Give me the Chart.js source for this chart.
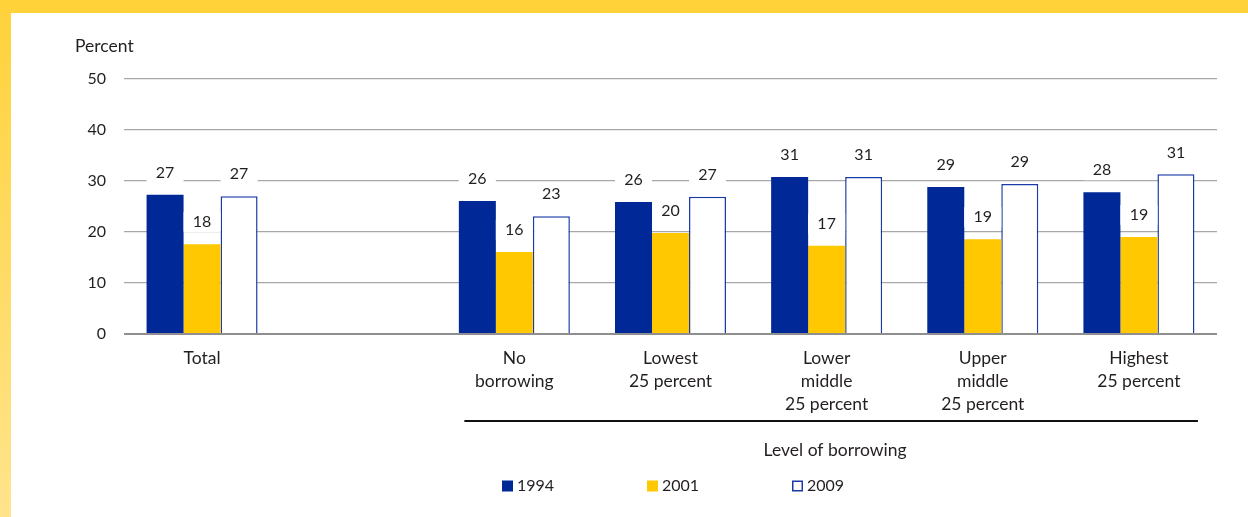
<!DOCTYPE html>
<html>
<head>
<meta charset="utf-8">
<script src="https://cdn.jsdelivr.net/npm/chart.js@4/dist/chart.umd.min.js"></script>
<style>
  html, body { margin: 0; padding: 0; background: #fff; }
  body { width: 1248px; height: 517px; position: relative; overflow: hidden; }
  #top { position: absolute; left: 0; top: 0; width: 1248px; height: 13px; background: #FFD23A; }
  #left { position: absolute; left: 0; top: 0; width: 11px; height: 517px; background: linear-gradient(#FFD23A, #FFE48C); }
  #wrap { position: absolute; left: 0; top: 0; width: 1248px; height: 517px; }
</style>
</head>
<body>
<div id="top"></div>
<div id="left"></div>
<div id="wrap"><canvas id="c" width="1248" height="517"></canvas></div>
<script>
const categories = ["Total", "", ["No", "borrowing"], ["Lowest", "25 percent"], ["Lower", "middle", "25 percent"], ["Upper", "middle", "25 percent"], ["Highest", "25 percent"]];
const seriesNames = ["1994", "2001", "2009"];
const values1994 = [27.3, null, 26.1, 25.9, 30.8, 28.8, 27.8];
const values2001 = [17.6, null, 16.1, 19.8, 17.3, 18.6, 19.0];
const values2009 = [27.0, null, 23.1, 26.9, 30.8, 29.4, 31.3];
const yTicks = [0, 10, 20, 30, 40, 50];
const axisTitle = "Percent";
const groupTitle = "Level of borrowing";

const FONT = "Lato, 'Open Sans', sans-serif";
const TEXT = "#231f20";
const WORD = 17.5;
const NUM = 16;

const extras = {
  id: "extras",
  afterDatasetsDraw(chart) {
    const ctx = chart.ctx;
    ctx.save();
    ctx.font = NUM + "px " + FONT;
    ctx.textAlign = "center";
    ctx.textBaseline = "middle";
    chart.data.datasets.forEach((ds, di) => {
      const meta = chart.getDatasetMeta(di);
      meta.data.forEach((bar, i) => {
        const v = ds.data[i];
        if (v === null || v === undefined) return;
        const w = bar.width;
        const cy = bar.y - 22;
        ctx.fillStyle = "#fff";
        ctx.fillRect(bar.x - w / 2, cy - 10, w, 20);
        ctx.fillStyle = TEXT;
        ctx.fillText(String(Math.round(v)), bar.x, cy);
      });
    });
    ctx.restore();
  },
  afterDraw(chart) {
    const ctx = chart.ctx;
    const ca = chart.chartArea;
    const xs = chart.scales.x;
    ctx.save();
    ctx.fillStyle = TEXT;
    ctx.font = WORD + "px " + FONT;
    ctx.textBaseline = "middle";
    ctx.textAlign = "left";
    ctx.fillText(axisTitle, 75, 46);

    // group divider
    const x1 = xs.getPixelForValue(2) - 50;
    const x2 = xs.getPixelForValue(6) + 59;
    ctx.strokeStyle = "#111";
    ctx.lineWidth = 2;
    ctx.beginPath();
    ctx.moveTo(x1, 421);
    ctx.lineTo(x2, 421);
    ctx.stroke();
    ctx.textAlign = "center";
    ctx.fillText(groupTitle, (x1 + x2) / 2 + 4, 450);

    // legend
    ctx.font = NUM + "px " + FONT;
    const center = (ca.left + ca.right) / 2;
    const pitch = 145;
    chart.data.datasets.forEach((ds, i) => {
      const lx = center - 168.5 + i * pitch;
      const ly = 486;
      ctx.fillStyle = ds.backgroundColor;
      ctx.fillRect(lx, ly - 5.5, 11, 11);
      if (ds.borderWidth) {
        ctx.strokeStyle = ds.borderColor;
        ctx.lineWidth = 1.5;
        ctx.strokeRect(lx + 0.75, ly - 4.75, 9.5, 9.5);
      }
      ctx.fillStyle = TEXT;
      ctx.textAlign = "left";
      ctx.fillText(ds.label, lx + 15, ly);
    });
    ctx.restore();
  }
};

new Chart(document.getElementById("c"), {
  type: "bar",
  data: {
    labels: categories,
    datasets: [
      { label: seriesNames[0], data: values1994, backgroundColor: "#002896", borderWidth: 0 },
      { label: seriesNames[1], data: values2001, backgroundColor: "#FFC800", borderWidth: 0 },
      { label: seriesNames[2], data: values2009, backgroundColor: "#ffffff", borderColor: "#1a3aa6", borderWidth: 1.5 }
    ]
  },
  options: {
    responsive: false,
    animation: false,
    layout: { padding: { top: 79, right: 31, bottom: 0, left: 0 } },
    plugins: { legend: { display: false }, tooltip: { enabled: false } },
    datasets: { bar: { categoryPercentage: 0.711, barPercentage: 1.0 } },
    scales: {
      x: {
        grid: { display: false },
        border: { display: false },
        ticks: {
          color: TEXT,
          font: { family: FONT, size: WORD, lineHeight: 23 / WORD },
          padding: 5,
          maxRotation: 0,
          autoSkip: false
        },
        afterFit(scale) { scale.height = 183; }
      },
      y: {
        min: 0,
        max: 50,
        afterBuildTicks(scale) { scale.ticks = yTicks.map(v => ({ value: v })); },
        border: { display: false },
        grid: {
          drawTicks: false,
          color: (c) => c.tick && c.tick.value === 0 ? "#8f8f8f" : "#a8a8a8",
          lineWidth: (c) => c.tick && c.tick.value === 0 ? 2 : 1.3
        },
        ticks: {
          color: TEXT,
          font: { family: FONT, size: NUM },
          padding: 18
        },
        afterFit(scale) { scale.width = 124; }
      }
    }
  },
  plugins: [extras]
});
</script>
</body>
</html>
